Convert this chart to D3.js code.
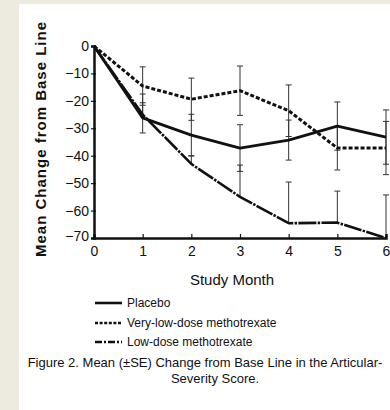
<!DOCTYPE html>
<html><head><meta charset="utf-8">
<script src="https://cdn.jsdelivr.net/npm/d3@7"></script>
<style>
html,body{margin:0;padding:0;background:#edebe0;}
svg{display:block;font-family:"Liberation Sans",Arial,sans-serif;}
</style></head>
<body>
<svg id="c" width="390" height="410"></svg>
<script>
const months = [0, 1, 2, 3, 4, 5, 6];
const yTicks = [0, -10, -20, -30, -40, -50, -60, -70];
const placebo   = [0, -26.2, -32.5, -37.2, -34.3, -29.2, -33.2];
const placeboSE = [0, 5.5, 7.6, 8.5, 7.3, 8.8, 9.9];
const veryLow   = [0, -14.6, -19.4, -16.3, -23.6, -37.2, -37.2];
const veryLowSE = [0, 7.0, 7.7, 9.0, 9.4, 8.0, 9.7];
const lowDose   = [0, -25.0, -43.0, -55.0, -64.6, -64.4, -70.0];
const lowDoseSE = [0, 7.5, 3.0, 11.6, 15.0, 11.5, 15.7];
const seriesNames = ["Placebo", "Very-low-dose methotrexate", "Low-dose methotrexate"];

const svg = d3.select("#c");
svg.append("rect").attr("x", 19).attr("y", 4).attr("width", 371).attr("height", 406).attr("fill", "#ffffff");

const x = d3.scaleLinear().domain([0, 6]).range([94, 386]);
const y = d3.scaleLinear().domain([-70, 0]).range([238, 46]);
const ink = "#111";

const series = [
  {name: seriesNames[0], vals: placebo, se: placeboSE, dash: null, w: 2.8, both: true},
  {name: seriesNames[1], vals: veryLow, se: veryLowSE, dash: "4,2", w: 3, both: true},
  {name: seriesNames[2], vals: lowDose, se: lowDoseSE, dash: "18,1.3,2.5,1.3", w: 2.6, both: false}
];

// error bars
const eb = svg.append("g").attr("stroke", "#333").attr("stroke-width", 1).attr("fill", "none");
series.forEach(s => {
  months.forEach((m, i) => {
    if (!s.se[i]) return;
    const top = s.vals[i] + s.se[i];
    const bot = s.both ? s.vals[i] - s.se[i] : s.vals[i];
    eb.append("line").attr("x1", x(m)).attr("x2", x(m)).attr("y1", y(top)).attr("y2", y(bot));
    eb.append("line").attr("x1", x(m) - 3).attr("x2", x(m) + 3).attr("y1", y(top)).attr("y2", y(top));
    if (s.both) eb.append("line").attr("x1", x(m) - 3).attr("x2", x(m) + 3).attr("y1", y(bot)).attr("y2", y(bot));
  });
});

// lines
const line = d3.line().x((d, i) => x(months[i])).y(d => y(d));
series.forEach(s => {
  svg.append("path").datum(s.vals).attr("d", line).attr("fill", "none")
    .attr("stroke", ink).attr("stroke-width", s.w)
    .attr("stroke-dasharray", s.dash).attr("stroke-linejoin", "round");
});

// axes
const yAxis = d3.axisLeft(y).tickValues(yTicks).tickSize(3).tickPadding(6)
  .tickFormat(d => d === 0 ? "0" : "\u2212" + Math.abs(d));
const gy = svg.append("g").attr("transform", "translate(94,0)").call(yAxis);
const xAxis = d3.axisBottom(x).tickValues(months).tickSize(-4).tickPadding(6).tickFormat(d3.format("d"));
const gx = svg.append("g").attr("transform", "translate(0,238)").call(xAxis);
[gx, gy].forEach(g => {
  g.select(".domain").attr("stroke", ink).attr("stroke-width", 2.5);
  g.selectAll(".tick line").attr("stroke", ink).attr("stroke-width", 1.2);
  g.selectAll("text").attr("fill", ink).attr("font-size", 14).attr("font-family", "'Liberation Sans',Arial,sans-serif");
});
gy.selectAll(".tick line").attr("x1", 2);
gx.selectAll(".tick text").attr("dy", "0.85em");
gy.selectAll(".tick text").attr("x", -5);
gy.selectAll(".tick").filter(d => d === -70).select("text").attr("dy", "0.2em");

// axis labels
svg.append("text").attr("transform", "translate(46,139) rotate(-90)").attr("text-anchor", "middle")
  .attr("font-size", 15).attr("font-weight", "bold").attr("letter-spacing", 1).attr("fill", ink)
  .text("Mean Change from Base Line");
svg.append("text").attr("x", 232).attr("y", 285).attr("text-anchor", "middle")
  .attr("font-size", 15).attr("fill", ink).text("Study Month");

// legend
const leg = svg.append("g");
const legY = [303, 323, 342];
series.forEach((s, i) => {
  leg.append("line").attr("x1", 95).attr("x2", 122).attr("y1", legY[i]).attr("y2", legY[i])
    .attr("stroke", ink).attr("stroke-width", i === 2 ? 2.4 : 2.6)
    .attr("stroke-dasharray", i === 1 ? "3,1.6" : (i === 2 ? "7,2,2,2" : null));
  leg.append("text").attr("x", 127).attr("y", legY[i]).attr("dy", "0.35em")
    .attr("font-size", 12).attr("fill", ink).text(s.name);
});

// caption
svg.append("text").attr("x", 205).attr("y", 367).attr("text-anchor", "middle")
  .attr("font-size", 13).attr("fill", ink).text("Figure 2. Mean (\u00B1SE) Change from Base Line in the Articular-");
svg.append("text").attr("x", 215).attr("y", 383).attr("text-anchor", "middle")
  .attr("font-size", 13).attr("fill", ink).text("Severity Score.");
</script>
</body></html>
